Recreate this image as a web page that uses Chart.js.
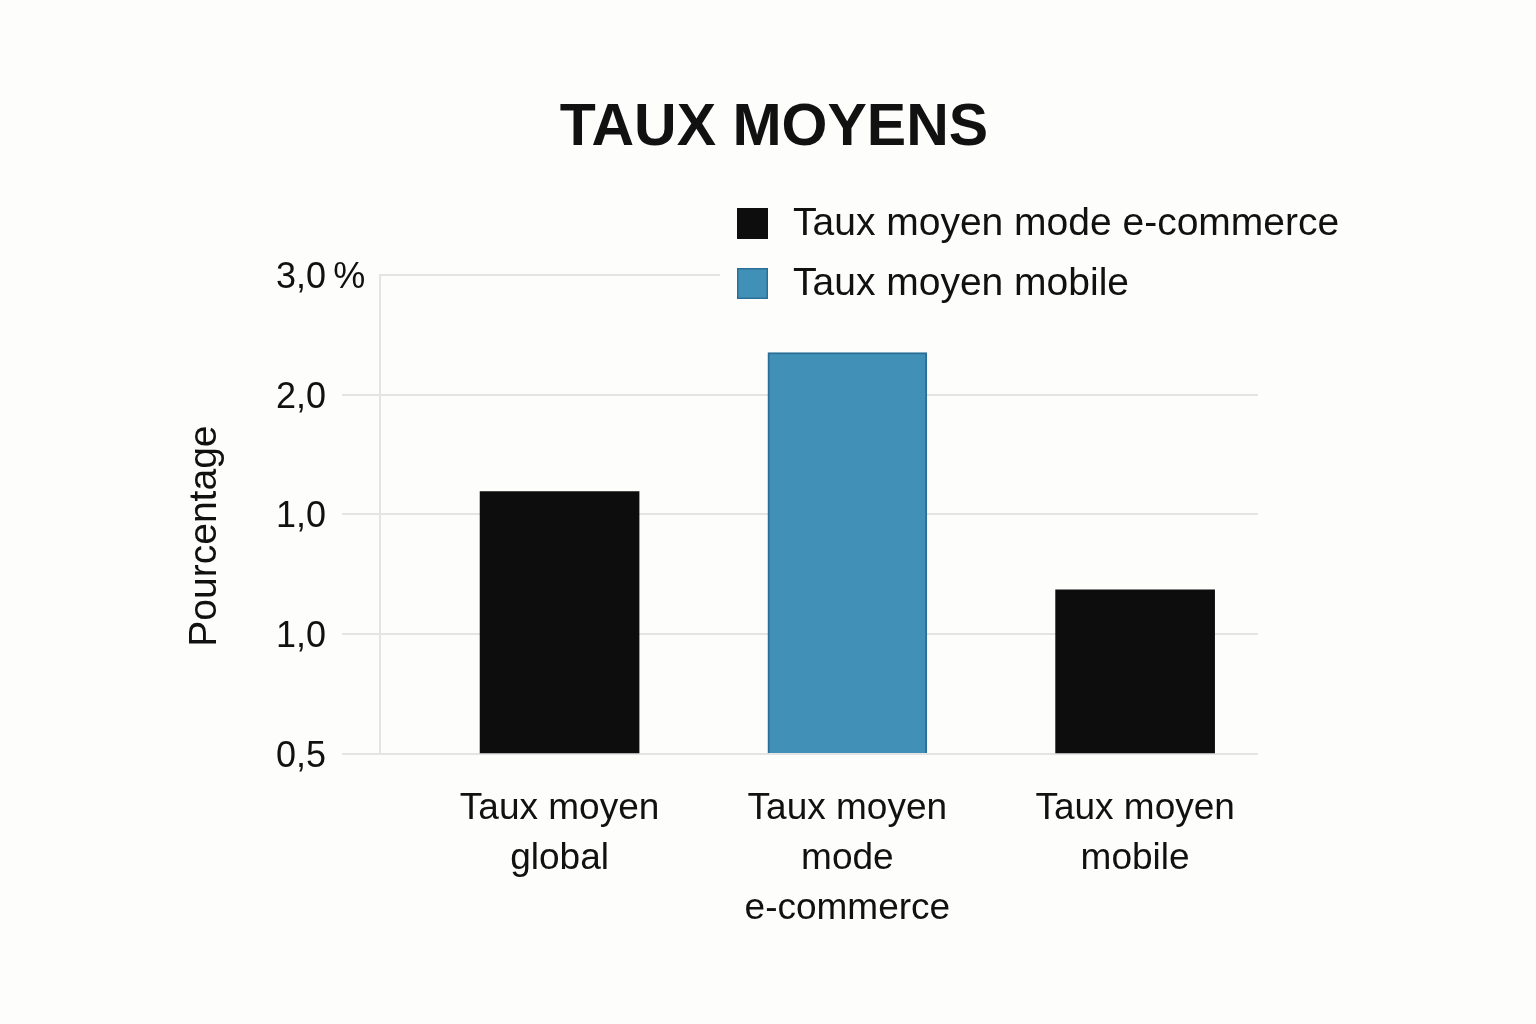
<!DOCTYPE html>
<html>
<head>
<meta charset="utf-8">
<script src="https://cdn.jsdelivr.net/npm/chart.js@4.4.1/dist/chart.umd.min.js"></script>
<style>
  html, body { margin: 0; padding: 0; background: #fdfdfc; }
  #wrap { width: 1536px; height: 1024px; position: relative; }
</style>
</head>
<body>
<div id="wrap"><canvas id="c" width="1536" height="1024"></canvas></div>
<script>
// ---- data ----
const chartTitle = "TAUX MOYENS";
const categories = ["Taux moyen global", "Taux moyen mode e-commerce", "Taux moyen mobile"];
const categoryLines = [["Taux moyen", "global"], ["Taux moyen", "mode", "e-commerce"], ["Taux moyen", "mobile"]];
const yTickLabels = ["0,5", "1,0", "1,0", "2,0", "3,0\u2009%"];
const yAxisTitle = "Pourcentage";
const seriesNames = ["Taux moyen mode e-commerce", "Taux moyen mobile"];
// values in axis-step units (one step per labelled gridline)
const seriesBlack = [2.19, null, 1.37];
const seriesBlue = [null, 3.35, null];

// ---- helpers ----
const toPoints = arr => arr.map((v, i) => (v === null ? null : { x: i, y: v })).filter(p => p !== null);
const FONT = '"Liberation Sans", Arial, Helvetica, sans-serif';
const BG = '#fdfdfc';
const GRID = '#e4e4e4';
const INK = '#111111';

Chart.defaults.font.family = FONT;
Chart.defaults.color = INK;

const sideLegend = {
  id: 'sideLegend',
  afterDraw(chart) {
    const ctx = chart.ctx;
    const a = chart.chartArea;
    ctx.save();
    // the top gridline stops before the legend
    ctx.fillStyle = BG;
    ctx.fillRect(720, a.top - 4, a.right - 720 + 4, 8);
    ctx.font = '39px ' + FONT;
    ctx.textBaseline = 'middle';
    ctx.textAlign = 'left';
    chart.data.datasets.forEach((ds, i) => {
      const top = 208 + i * 60;
      ctx.fillStyle = ds.backgroundColor;
      ctx.fillRect(737, top, 31, 31);
      if (ds.borderWidth) {
        ctx.strokeStyle = ds.borderColor;
        ctx.lineWidth = 1.5;
        ctx.strokeRect(737.75, top + 0.75, 29.5, 29.5);
      }
      ctx.fillStyle = INK;
      ctx.fillText(ds.label, 793, top + 16);
    });
    ctx.restore();
  }
};

new Chart(document.getElementById('c'), {
  type: 'bar',
  data: {
    datasets: [
      {
        label: seriesNames[0],
        data: toPoints(seriesBlack),
        backgroundColor: '#0d0d0d',
        borderWidth: 0,
        grouped: false,
        barThickness: 159,
        xAxisID: 'x', yAxisID: 'y'
      },
      {
        label: seriesNames[1],
        data: toPoints(seriesBlue),
        backgroundColor: '#4190b8',
        borderColor: '#2c6f96',
        borderWidth: 2,
        grouped: false,
        barThickness: 159,
        xAxisID: 'x', yAxisID: 'y'
      }
    ]
  },
  options: {
    responsive: false,
    animation: false,
    devicePixelRatio: 1,
    layout: { padding: { left: 182, right: 170, top: 0, bottom: 0 } },
    plugins: {
      legend: { display: false },
      tooltip: { enabled: false },
      title: {
        display: true,
        text: chartTitle,
        color: INK,
        font: { size: 59, weight: 'bold', family: FONT },
        padding: { top: 93, bottom: 111 }
      }
    },
    scales: {
      x: {
        type: 'linear',
        position: 'bottom',
        offset: false,
        min: -0.624,
        max: 2.427,
        grid: { display: false, drawTicks: false, offset: false },
        border: { display: false },
        afterBuildTicks: s => { s.ticks = categories.map((_, i) => ({ value: i })); },
        afterFit: s => { s.height = 270; },
        ticks: {
          autoSkip: false,
          minRotation: 0,
          maxRotation: 0,
          padding: 30,
          color: INK,
          font: { size: 37, lineHeight: 1.35 },
          callback: v => categoryLines[v]
        }
      },
      y: {
        type: 'linear',
        position: 'left',
        weight: 0,
        min: 0,
        max: 4,
        afterFit: s => { s.width = 104; },
        grid: {
          color: GRID,
          lineWidth: 2,
          tickLength: 38,
          tickColor: c => (c.tick && c.tick.value === 4 ? 'rgba(0,0,0,0)' : GRID)
        },
        border: { display: true, color: GRID, width: 2 },
        ticks: {
          stepSize: 1,
          crossAlign: 'far',
          padding: 16,
          labelOffset: 3,
          color: INK,
          font: { size: 36 },
          callback: v => yTickLabels[v]
        }
      },
      y2: {
        type: 'linear',
        position: 'left',
        weight: 10,
        afterFit: s => { s.width = 94; },
        grid: { display: false, drawTicks: false },
        border: { display: false },
        ticks: { display: false },
        title: {
          display: true,
          text: yAxisTitle + '    ',
          color: INK,
          font: { size: 39 },
          padding: 0
        }
      },
      yRight: {
        type: 'linear',
        position: 'right',
        afterFit: s => { s.width = 108; },
        grid: { display: false, drawTicks: false },
        border: { display: false },
        ticks: { display: false }
      }
    }
  },
  plugins: [sideLegend]
});
</script>
</body>
</html>
